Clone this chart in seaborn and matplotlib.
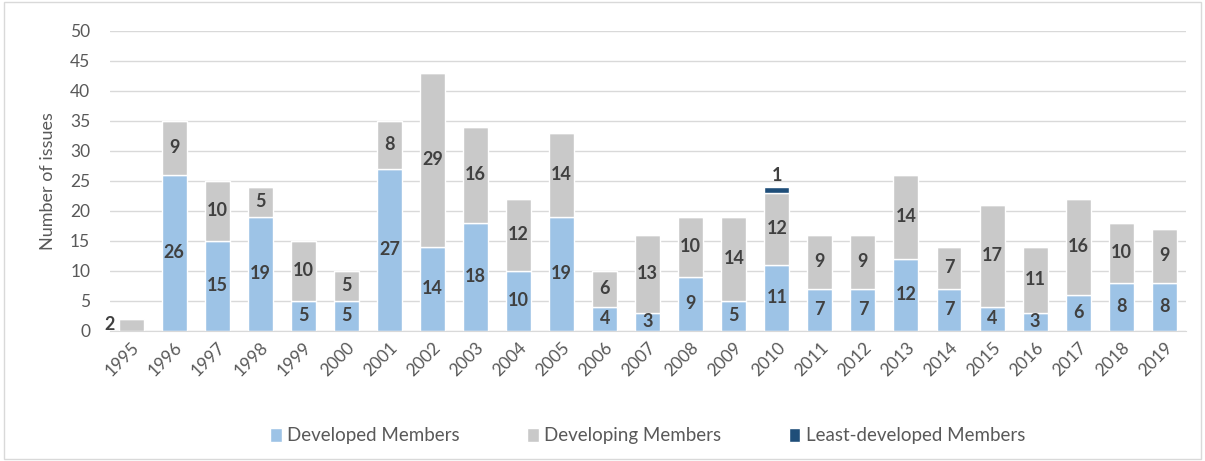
import pandas as pd
import numpy as np
import matplotlib.pyplot as plt
import seaborn as sns

# Data
years = [str(y) for y in range(1995, 2020)]
developed = [0, 26, 15, 19, 5, 5, 27, 14, 18, 10, 19, 4, 3, 9, 5, 11, 7, 7, 12, 7, 4, 3, 6, 8, 8]
developing = [2, 9, 10, 5, 10, 5, 8, 29, 16, 12, 14, 6, 13, 10, 14, 12, 9, 9, 14, 7, 17, 11, 16, 10, 9]
least = [0] * 15 + [1] + [0] * 9

c_dev, c_ing, c_least = '#9DC3E6', '#C9C9C9', '#1F4E79'
txt = '#404040'

sns.set_style('white')
plt.rcParams['font.family'] = ['Lato', 'DejaVu Sans']

df = pd.DataFrame({'year': years, 'developed': developed,
                   'developing': developing, 'least': least})
df['base2'] = df['developed'] + df['developing']

fig = plt.figure(figsize=(12.05, 4.61), dpi=100)
ax = fig.add_axes([0.091, 0.282, 0.893, 0.651])

w = 0.58
sns.barplot(data=df, x='year', y='developed', color=c_dev, width=w, ax=ax,
            saturation=1, label='Developed Members')
sns.barplot(data=df, x='year', y='developing', bottom=df['developed'], color=c_ing,
            width=w, ax=ax, saturation=1, label='Developing Members')
sns.barplot(data=df, x='year', y='least', bottom=df['base2'], color=c_least,
            width=w, ax=ax, saturation=1, label='Least-developed Members')

fs = 13
# value labels
for i, (d, g, l) in enumerate(zip(developed, developing, least)):
    if d > 0:
        ax.text(i, d / 2, str(d), ha='center', va='center', fontsize=fs,
                fontweight='bold', color=txt)
    if g > 0:
        if d == 0:
            ax.text(i - w / 2 - 0.1, g / 2, str(g), ha='right', va='center',
                    fontsize=fs, fontweight='bold', color=txt)
        else:
            ax.text(i, d + g / 2, str(g), ha='center', va='center', fontsize=fs,
                    fontweight='bold', color=txt)
    if l > 0:
        ax.text(i, d + g + l + 0.5, str(l), ha='center', va='bottom', fontsize=fs,
                fontweight='bold', color=txt)

ax.set_ylim(0, 50)
ax.set_xlim(-0.5, 24.5)
ax.set_yticks(range(0, 51, 5))
ax.yaxis.grid(True, color='#D9D9D9', linewidth=1)
ax.set_axisbelow(True)
for s in ['top', 'right', 'left']:
    ax.spines[s].set_visible(False)
ax.spines['bottom'].set_color('#D9D9D9')
ax.tick_params(axis='both', colors='#595959', labelsize=12.5, length=0)
ax.tick_params(axis='y', pad=14)
plt.setp(ax.get_xticklabels(), rotation=45, ha='right', rotation_mode='anchor')
ax.tick_params(axis='x', pad=6)
ax.set_xlabel('')
ax.set_ylabel('Number of issues', color='#595959', fontsize=13, labelpad=10)

leg = ax.legend(loc='upper center', bbox_to_anchor=(0.5, -0.265), ncol=3, frameon=False,
                fontsize=13.5, handlelength=0.6, handleheight=0.8, columnspacing=3.6,
                handletextpad=0.3)
for t in leg.get_texts():
    t.set_color('#595959')

# outer border like the source image
fig.patches.append(plt.Rectangle((0.003, 0.005), 0.994, 0.99, transform=fig.transFigure,
                                 fill=False, edgecolor='#D9D9D9', linewidth=1))

plt.savefig('out.png', dpi=100)
